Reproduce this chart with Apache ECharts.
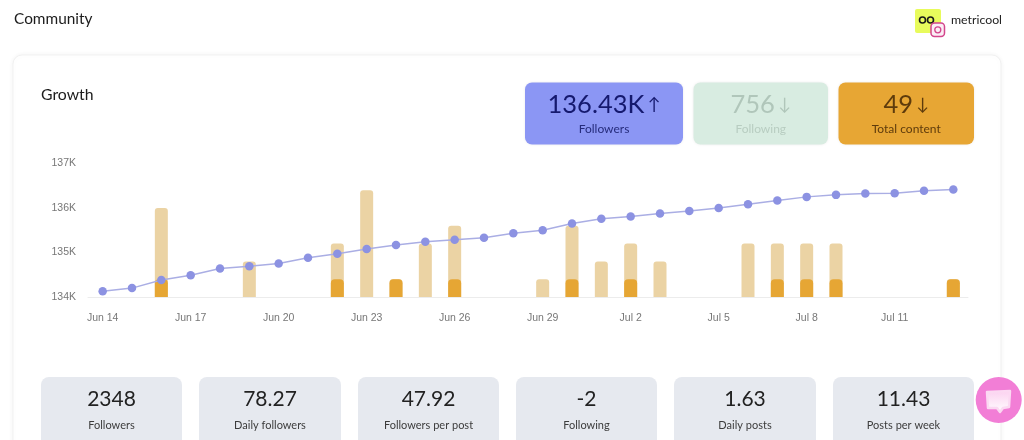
<!DOCTYPE html>
<html>
<head>
<meta charset="utf-8">
<style>html,body{margin:0;padding:0;background:#fff}#c{width:1024px;height:440px}</style>
<script src="https://cdn.jsdelivr.net/npm/echarts@6/dist/echarts.min.js"></script>
</head>
<body>
<div id="c"></div>
<script>
const categories = ['Jun 14','Jun 15','Jun 16','Jun 17','Jun 18','Jun 19','Jun 20','Jun 21','Jun 22','Jun 23','Jun 24','Jun 25','Jun 26','Jun 27','Jun 28','Jun 29','Jun 30','Jul 1','Jul 2','Jul 3','Jul 4','Jul 5','Jul 6','Jul 7','Jul 8','Jul 9','Jul 10','Jul 11','Jul 12','Jul 13'];
const followers = [134130,134200,134380,134490,134640,134690,134755,134880,134970,135080,135170,135240,135285,135330,135430,135500,135650,135760,135810,135875,135935,136000,136085,136170,136250,136295,136325,136330,136385,136415];
const totalContent = [0,0,5,0,0,2,0,0,3,6,1,3,4,0,0,1,4,2,3,2,0,0,3,3,3,3,0,0,0,1];
const posts = [0,0,1,0,0,0,0,0,1,0,1,0,1,0,0,0,1,0,1,0,0,0,0,1,1,1,0,0,0,1];
const kpiLabels = ['Followers','Following','Total content'];
const kpiValues = ['136.43K','756','49'];
const kpiArrows = ['↑','↓','↓'];
const summaryLabels = ['Followers','Daily followers','Followers per post','Following','Daily posts','Posts per week'];
const summaryValues = ['2348','78.27','47.92','-2','1.63','11.43'];

const UI = 'Lato, "Noto Sans", sans-serif';
const kpiBoxes = [
  {x:525,w:158,fill:'#8b96f4',val:'#15196e',lab:'#262c7c'},
  {x:693.5,w:134.5,fill:'#d8ece1',val:'#b0c6ba',lab:'#b8cdc1'},
  {x:838.5,w:135.5,fill:'#e7a634',val:'#5e3b0c',lab:'#5e3b0c'}
];
const sumX = [[41,141],[199,142],[358,141],[516,141],[674,142],[833,141]];
const g = [];
const txt = (x,y,text,size,fill,align,weight) => ({type:'text',x,y,silent:true,style:{text,fontSize:size,fill,fontFamily:UI,align:align||'center',verticalAlign:'middle',fontWeight:weight||400}});
// main card
g.push({type:'rect',z:-1,shape:{x:13,y:55,width:988,height:420,r:9},style:{fill:'#fff',stroke:'#f1f1f1',lineWidth:1,shadowBlur:5,shadowColor:'rgba(0,0,0,0.05)'}});
g.push(txt(14,19.5,'Community',15.4,'#1c1c1c','left'));
g.push(txt(41,94.5,'Growth',15.8,'#1c1c1c','left'));
// KPI boxes
kpiBoxes.forEach((b,i)=>{
  g.push({type:'rect',shape:{x:b.x,y:82.5,width:b.w,height:62,r:7},style:{fill:b.fill,shadowBlur:3,shadowColor:'rgba(0,0,0,0.08)'}});
  g.push({type:'text',x:b.x+b.w/2,y:104.5,silent:true,style:{
    text:'{n|'+kpiValues[i]+'} {a|'+kpiArrows[i]+'}',align:'center',verticalAlign:'middle',fill:b.val,
    rich:{n:{fontSize:25.5,fontFamily:UI,fill:b.val},a:{fontSize:17,fontFamily:UI,fill:b.val}}
  }});
  g.push(txt(b.x+b.w/2,129.5,kpiLabels[i],12,b.lab));
});
// summary boxes
summaryLabels.forEach((l,i)=>{
  const [x,w]=sumX[i];
  g.push({type:'rect',shape:{x,y:377,width:w,height:70,r:8},style:{fill:'#e6e9ef'}});
  g.push(txt(x+w/2,399.5,summaryValues[i],21,'#222'));
  g.push(txt(x+w/2,425.5,l,11,'#3c3c3c'));
});
// logo
g.push({type:'rect',shape:{x:915,y:9,width:26,height:24,r:2},style:{fill:'#e8fb5c'}});
g.push({type:'circle',shape:{cx:922.5,cy:20,r:3},style:{fill:'none',stroke:'#1a1a1a',lineWidth:1.6}});
g.push({type:'circle',shape:{cx:930.5,cy:20,r:3},style:{fill:'none',stroke:'#1a1a1a',lineWidth:1.6}});
g.push({type:'rect',shape:{x:931,y:23,width:13.5,height:13.5,r:3.5},style:{fill:'#fbeef5',stroke:'#d3468c',lineWidth:1.5}});
g.push({type:'circle',shape:{cx:937.8,cy:29.8,r:3},style:{fill:'none',stroke:'#d3468c',lineWidth:1.3}});
g.push(txt(951,20,'metricool',12.3,'#222','left'));
// chat bubble
g.push({type:'circle',shape:{cx:998.7,cy:400,r:23},style:{fill:'#f27ed6'}});
g.push({type:'polygon',shape:{points:[[987,392],[1010,391],[1009,407],[1003,408],[1000,412],[997,408],[988,408]]},style:{fill:new echarts.graphic.LinearGradient(0,0,0,1,[{offset:0,color:'#fbcfef'},{offset:1,color:'#fff'}]),stroke:'#fbd9f2',lineWidth:2.5,lineJoin:'round'}});

const chart = echarts.init(document.getElementById('c'),null,{renderer:'canvas'});
chart.setOption({
  animation:false,
  backgroundColor:'#fff',
  graphic:g,
  grid:{left:88,right:56,top:163.5,bottom:143,containLabel:false},
  xAxis:{type:'category',data:categories,boundaryGap:true,
    axisLine:{lineStyle:{color:'#ececec',width:1}},axisTick:{show:false},
    axisLabel:{interval:2,color:'#777',fontSize:10.5,fontFamily:'"Liberation Sans",Arial,sans-serif',margin:16}},
  yAxis:[
    {type:'value',min:134000,max:137000,interval:1000,splitLine:{show:false},axisLine:{show:false},axisTick:{show:false},
     axisLabel:{color:'#777',fontSize:10.5,fontFamily:'"Liberation Sans",Arial,sans-serif',margin:12,formatter:v=>(v/1000)+'K'}},
    {type:'value',min:0,max:7.5,show:false,splitLine:{show:false}}
  ],
  series:[
    {name:'Total content',type:'bar',yAxisIndex:1,data:totalContent,barWidth:13,barGap:'-100%',z:2,
      itemStyle:{color:'#ebd3a4',borderRadius:[3,3,0,0]}},
    {name:'Posts',type:'bar',yAxisIndex:1,data:posts,barWidth:13,barGap:'-100%',z:3,
      itemStyle:{color:'#e6a634',borderRadius:[4,4,0,0]}},
    {name:'Followers',type:'line',data:followers,z:5,symbol:'circle',symbolSize:8.5,showSymbol:true,
      lineStyle:{color:'#aaaee4',width:1.5},itemStyle:{color:'#8c92e2'}}
  ]
});
</script>
</body>
</html>
